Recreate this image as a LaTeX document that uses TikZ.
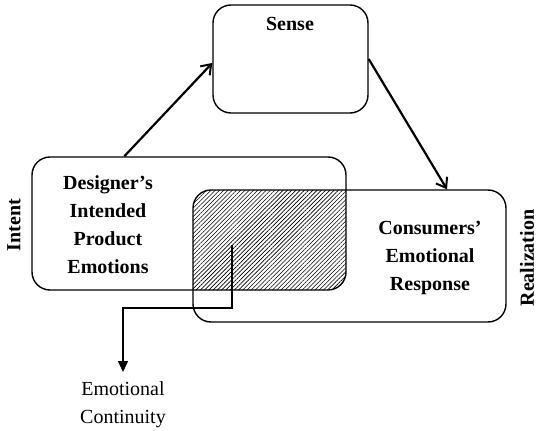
\documentclass[tikz,border=0pt]{standalone}
\usepackage{fontspec}
\setmainfont{Liberation Serif}
\usetikzlibrary{arrows.meta,patterns.meta}
\begin{document}
\begin{tikzpicture}[x=1pt,y=-1pt,
  box/.style={draw, line width=1.4pt, rounded corners=18pt, inner sep=0pt},
  lbl/.style={font=\fontsize{20}{28}\selectfont\bfseries, align=center},
  conn/.style={line width=2.2pt, -{Straight Barb[length=9pt,width=13pt,line width=2pt]}},
  flow/.style={line width=1.4pt, -{Triangle[length=11pt,width=10pt]}}]
\useasboundingbox (0,0) rectangle (539,431);
% hatched overlap
\begin{scope}
  \clip[rounded corners=18pt] (32,157) rectangle (346,290);
  \fill[pattern={Lines[angle=45,distance=3pt,line width=0.6pt]}, rounded corners=18pt] (193,190) rectangle (506,322);
\end{scope}
\node[box, minimum width=155pt, minimum height=108pt] (sense) at (290.5,59) {};
\node[box, minimum width=314pt, minimum height=133pt] (designer) at (189,223.5) {};
\node[box, minimum width=313pt, minimum height=132pt] (consumer) at (349.5,256) {};
\node[lbl] (sensetxt) at (290,24) {Sense};
\node[lbl] (designertxt) at (108,225) {Designer’s\\Intended\\Product\\Emotions};
\node[lbl] (consumertxt) at (430,258) {Consumers’\\Emotional\\Response};
\node[lbl, rotate=90] (intent) at (14,225) {Intent};
\node[lbl, rotate=90] (real) at (527,258) {Realization};
\node[font=\fontsize{20}{28}\selectfont, align=center, anchor=north, inner sep=9pt] (cont) at (123,372) {Emotional\\Continuity};
\draw[conn] ([xshift=93pt]designer.north west) -- ([yshift=-4pt]sense.west);
\draw[conn] (sense.east) -- ([xshift=97.5pt]consumer.north);
\coordinate (cstart) at (232,245);
\draw[flow] (cstart) |- (123,308) -- (cont.north);
\end{tikzpicture}
\end{document}
